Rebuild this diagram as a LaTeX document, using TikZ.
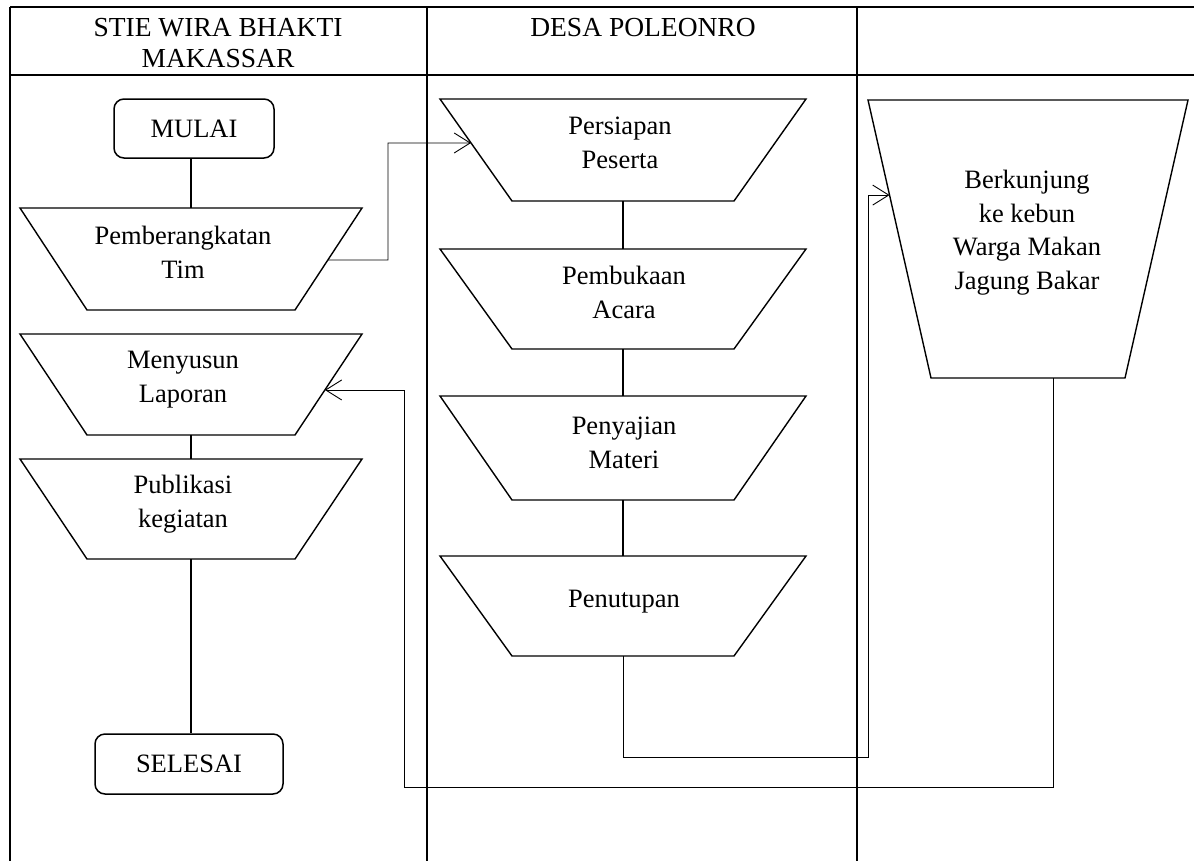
\documentclass[tikz,border=0pt]{standalone}
\usepackage{fontspec}
\setmainfont{Liberation Serif}
\usetikzlibrary{arrows.meta,calc}
\newcommand\myBody{\fontsize{26.5}{33.5}\selectfont}
\newcommand\myHead{\fontsize{27.5}{31}\selectfont}
% trapezoid: name, cx, ytop, ybot, half top width, half bottom width
\newcommand\trapz[6]{%
  \draw[shp] (#2-#5,#3) coordinate (#1TL) -- (#2+#5,#3) coordinate (#1TR)
     -- (#2+#6,#4) coordinate (#1BR) -- (#2-#6,#4) coordinate (#1BL) -- cycle;
  \coordinate (#1N) at (#2,#3);
  \coordinate (#1S) at (#2,#4);
}
\begin{document}
\begin{tikzpicture}[x=1pt,y=-1pt,
  tbl/.style={line width=2pt},
  shp/.style={line width=1.4pt,line join=miter},
  vline/.style={line width=1.8pt},
  elbow/.style={line width=0.9pt},
  arr/.style={elbow,-{Straight Barb[length=16pt,width=20pt,line width=0.9pt]}},
  term/.style={draw,line width=1.5pt,rounded corners=10pt,inner sep=0pt,font=\myBody},
  lbl/.style={anchor=north,align=center,inner sep=0pt,font=\myBody},
  hdr/.style={anchor=north,align=center,inner sep=0pt,font=\myHead}]
\useasboundingbox (0,0) rectangle (1194,860);
% table
\draw[tbl] (10,7) -- (1200,7);
\draw[tbl] (10,75) -- (1200,75);
\draw[tbl] (10,7) -- (10,870);
\draw[tbl] (427,7) -- (427,870);
\draw[tbl] (857,7) -- (857,870);
\node[hdr] (h1) at (218,18) {STIE WIRA BHAKTI\\MAKASSAR};
\node[hdr] (h2) at (643,18) {DESA POLEONRO};
% left column
\node[term,minimum width=160pt,minimum height=59pt] (mulai) at (194,128.5) {MULAI};
\trapz{pb}{191}{208}{310}{171}{104}
\node[lbl] (tpb) at (183,226) {Pemberangkatan\\Tim};
\trapz{my}{191}{334}{435}{171}{104}
\node[lbl] (tmy) at (183,351) {Menyusun\\Laporan};
\trapz{pk}{191}{459}{559}{171}{104}
\node[lbl] (tpk) at (183,475) {Publikasi\\kegiatan};
\node[term,minimum width=188pt,minimum height=60pt] (selesai) at (189,764) {SELESAI};
% center column
\trapz{pp}{623}{99}{201}{183}{111}
\node[lbl] (tpp) at (620,117) {Persiapan\\Peserta};
\trapz{pa}{623}{249}{349}{183}{111}
\node[lbl] (tpa) at (624,266) {Pembukaan\\Acara};
\trapz{pm}{623}{396}{500}{183}{111}
\node[lbl] (tpm) at (624,417) {Penyajian\\Materi};
\trapz{pn}{623}{556}{656}{183}{111}
\node[lbl] (tpn) at (624,590) {Penutupan};
% right column
\trapz{bk}{1028}{100}{378}{160}{97}
\node[lbl] (tbk) at (1027,170) {Berkunjung\\ke kebun\\Warga Makan\\Jagung Bakar};
% straight connectors
\draw[vline] (mulai.south -| pbN) -- (pbN);
\draw[vline] (myS) -- (pkN);
\draw[vline] (pkS) -- (selesai.north -| pkS);
\draw[vline] (ppS) -- (paN);
\draw[vline] (paS) -- (pmN);
\draw[vline] (pmS) -- (pnN);
% elbow connectors
\coordinate (c1s) at ($(pbTR)!0.51!(pbBR)$);
\coordinate (c1b) at (388,143);
\coordinate (c1e) at ($(ppTL)!0.431!(ppBL)$);
\draw[arr] (c1s) -| (c1b) -- (c1e);
\coordinate (c2b) at (868,757);
\coordinate (c2e) at ($(bkTL)!0.342!(bkBL)$);
\draw[arr] (pnS) |- (c2b) |- (c2e);
\coordinate (c3s) at ($(bkBL)!0.63!(bkBR)$);
\coordinate (c3b) at (404,787);
\coordinate (c3e) at ($(myTR)!0.554!(myBR)$);
\draw[arr] (c3s) |- (c3b) |- (c3e);
\end{tikzpicture}
\end{document}
